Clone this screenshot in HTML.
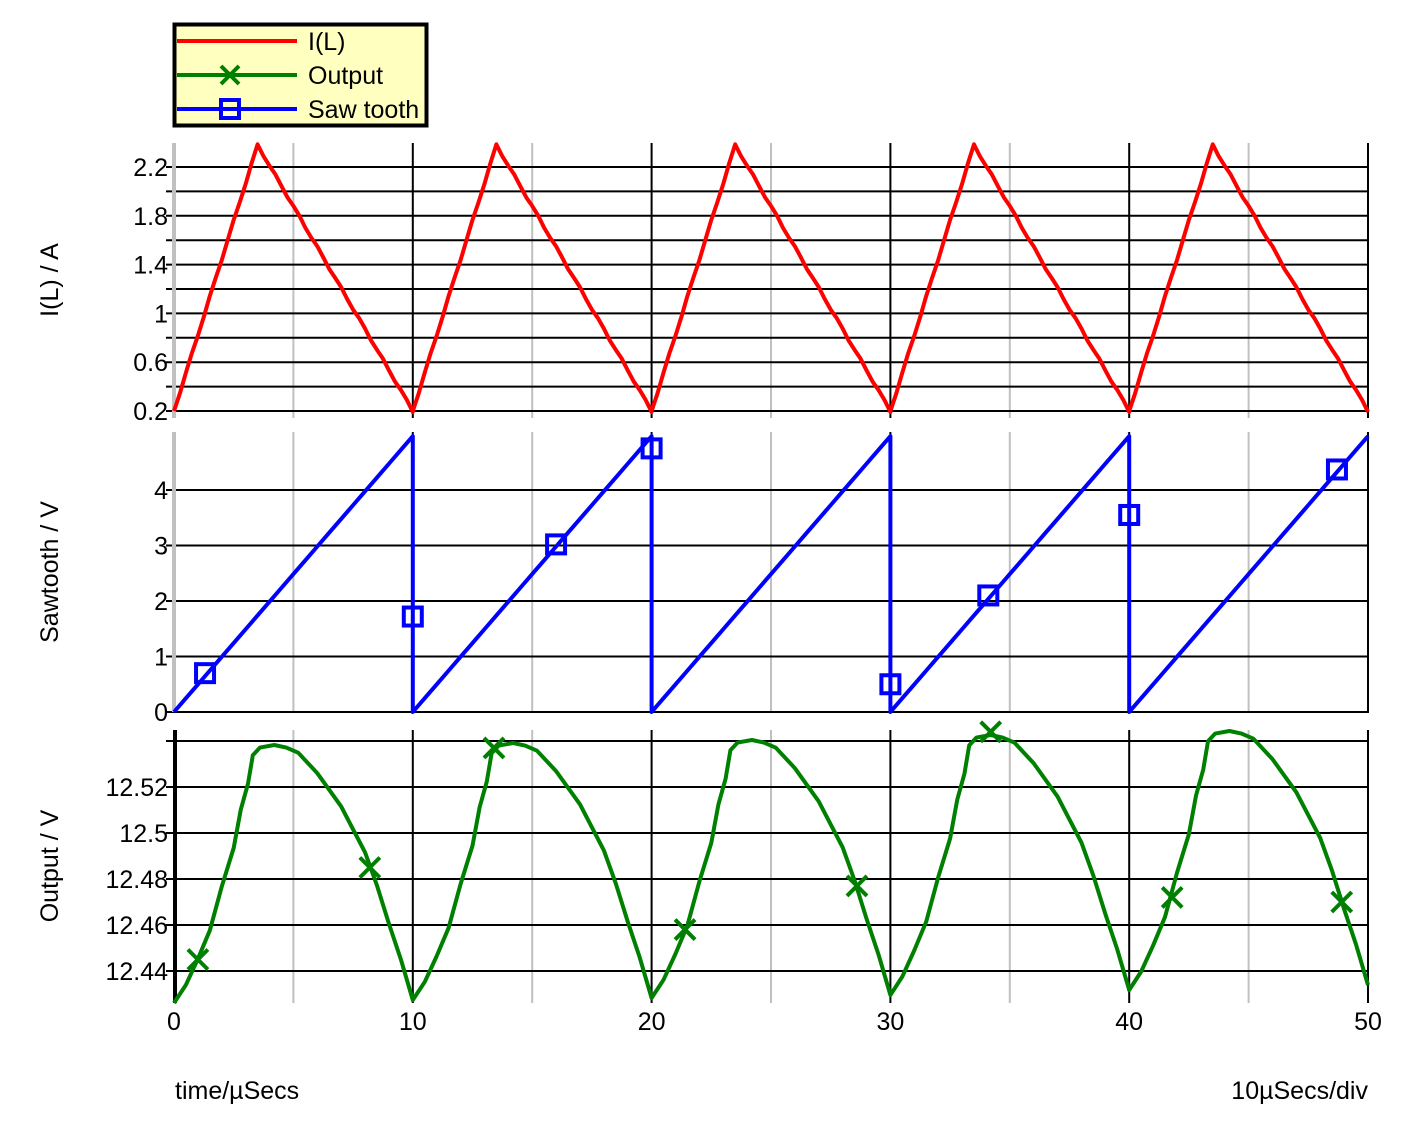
<!DOCTYPE html>
<html><head><meta charset="utf-8"><style>
html,body{margin:0;padding:0;background:#fff;}
svg{display:block;font-family:"Liberation Sans",sans-serif;}
</style></head><body>
<svg id="s" width="1413" height="1140" xmlns="http://www.w3.org/2000/svg"></svg>
<script>
const S=document.getElementById('s');
let h='';
const X=t=>174+t*23.88;
const FS=25;
const panels=[[143,418],[432,712],[730,1003]];
for(const [a,b] of panels){
  for(let i=5;i<50;i+=10) h+=`<line x1="${X(i)}" y1="${a}" x2="${X(i)}" y2="${b}" stroke="#c0c0c0" stroke-width="2"/>`;
  for(let i=10;i<=50;i+=10) h+=`<line x1="${X(i)}" y1="${a}" x2="${X(i)}" y2="${b}" stroke="#000" stroke-width="2"/>`;
}
for(let k=0;k<=10;k++){const y=411-k*24.4;h+=`<line x1="166" y1="${y}" x2="1369" y2="${y}" stroke="#000" stroke-width="2"/>`;}
[[0.2,0],[0.6,2],[1,4],[1.4,6],[1.8,8],[2.2,10]].forEach(([v,k])=>{h+=`<text x="168" y="${411-k*24.4+9}" font-size="${FS}" text-anchor="end">${v}</text>`;});
h+=`<line x1="174" y1="143" x2="174" y2="418" stroke="#c0c0c0" stroke-width="4"/>`;
for(let v=0;v<=4;v++){const y=712-v*55.5;h+=`<line x1="166" y1="${y}" x2="1369" y2="${y}" stroke="#000" stroke-width="2"/>`;h+=`<text x="168" y="${y+9}" font-size="${FS}" text-anchor="end">${v}</text>`;}
h+=`<line x1="174" y1="432" x2="174" y2="712" stroke="#c0c0c0" stroke-width="4"/>`;
const vals=['12.54','12.52','12.5','12.48','12.46','12.44'];
vals.forEach((v,i)=>{const y=741+i*46;h+=`<line x1="166" y1="${y}" x2="1369" y2="${y}" stroke="#000" stroke-width="2"/>`;if(i>0)h+=`<text x="168" y="${y+9}" font-size="${FS}" text-anchor="end">${v}</text>`;});
h+=`<line x1="175" y1="730" x2="175" y2="1003" stroke="#000" stroke-width="4"/>`;
for(let i=0;i<=50;i+=10) h+=`<text x="${X(i)}" y="1030" font-size="${FS}" text-anchor="middle">${i}</text>`;
h+=`<text x="175" y="1099" font-size="${FS}">time/µSecs</text>`;
h+=`<text x="1368" y="1099" font-size="${FS}" text-anchor="end">10µSecs/div</text>`;
[['I(L) / A',280],['Sawtooth / V',572],['Output / V',866]].forEach(([t,y])=>{h+=`<text transform="translate(58,${y}) rotate(-90)" font-size="${FS}" text-anchor="middle">${t}</text>`;});
let p=[];
for(let c=0;c<5;c++){
  for(let t=0;t<=10;t+=0.25){
    let v=t<=3.5?0.2+2.18*t/3.5:2.38-2.18*(t-3.5)/6.5;
    p.push([X(c*10+t),411-(v-0.2)/0.2*24.4+Math.sin(t*7)*1.2]);
  }
}
h+=`<polyline points="${p.map(q=>q.join(',')).join(' ')}" fill="none" stroke="#ff0000" stroke-width="4" stroke-linejoin="round"/>`;
p=[];
for(let c=0;c<5;c++){
  for(let t=0;t<=10;t+=0.5){p.push([X(c*10+t),712-4.97*t/10*55.5]);}
  if(c<4)p.push([X(c*10+10),712]);
}
h+=`<polyline points="${p.map(q=>q.join(',')).join(' ')}" fill="none" stroke="#0000ff" stroke-width="4" stroke-linejoin="round"/>`;
[[1.3,0.7],[10,1.72],[16,3.02],[20,4.75],[30,0.5],[34.1,2.1],[40,3.55],[48.7,4.37]].forEach(([t,v])=>{
  const x=X(t),y=712-v*55.5;h+=`<rect x="${x-9}" y="${y-9}" width="18" height="18" fill="none" stroke="#0000ff" stroke-width="4"/>`;});
const shape=[[0,0],[0.5,0.07],[1,0.17],[1.5,0.28],[2,0.45],[2.5,0.6],[2.8,0.75],[3.1,0.85],[3.3,0.96],[3.6,0.99],[4.2,1],[4.7,0.99],[5.2,0.97],[6,0.89],[7,0.76],[7.5,0.67],[8,0.58],[8.5,0.45],[9,0.3],[9.5,0.16],[10,0]];
const mins=[1003,1000,998,995,990,985], peaks=[745,743,740,735,731];
p=[];
for(let c=0;c<5;c++){
  for(const [t,f] of shape){
    const mn=mins[c]+(mins[c+1]-mins[c])*t/10;
    p.push([X(c*10+t),mn-(mn-peaks[c])*f]);
  }
}
h+=`<polyline points="${p.map(q=>q.join(',')).join(' ')}" fill="none" stroke="#008000" stroke-width="4" stroke-linejoin="round"/>`;
const oy=v=>741+(12.54-v)/0.02*46;
[[1,12.445],[8.2,12.485],[13.4,12.537],[21.4,12.458],[28.6,12.477],[34.2,12.544],[41.8,12.472],[48.9,12.47]].forEach(([t,v])=>{
  const x=X(t),y=oy(v);h+=`<path d="M${x-10} ${y-10}L${x+10} ${y+10}M${x+10} ${y-10}L${x-10} ${y+10}" stroke="#008000" stroke-width="4"/>`;});
h+=`<rect x="174.5" y="24.5" width="252" height="101" fill="#ffffc0" stroke="#000" stroke-width="4"/>`;
h+=`<line x1="177" y1="41" x2="297" y2="41" stroke="#ff0000" stroke-width="4"/>`;
h+=`<line x1="177" y1="75" x2="297" y2="75" stroke="#008000" stroke-width="4"/>`;
h+=`<path d="M221 66L239 84M239 66L221 84" stroke="#008000" stroke-width="4"/>`;
h+=`<line x1="177" y1="109" x2="297" y2="109" stroke="#0000ff" stroke-width="4"/>`;
h+=`<rect x="221" y="100" width="18" height="18" fill="none" stroke="#0000ff" stroke-width="4"/>`;
h+=`<text x="308" y="50" font-size="${FS}">I(L)</text><text x="308" y="84" font-size="${FS}">Output</text><text x="308" y="118" font-size="${FS}">Saw tooth</text>`;
S.innerHTML=h;
</script>
</body></html>
